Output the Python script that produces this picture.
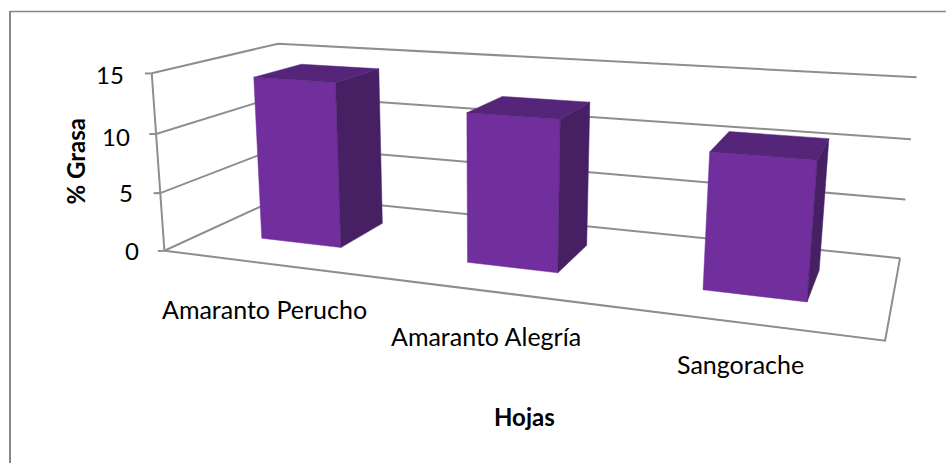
import numpy as np, plotly.graph_objects as go

# Data
categories = ['Amaranto Perucho', 'Amaranto Alegría', 'Sangorache']
grasa = [14.1, 12.36, 10.72]
z_ticks = [0, 5, 10, 15]
z_tick_labels = ['0', '5', '10', '15']
x_title = 'Hojas'
y_title = '% Grasa'

W, H = 946, 463
# Projective camera of the pseudo-3D chart: (category, depth, value) -> page position
CAMERA = np.array([182.332, 170.684, -1.22698, 164.406,
                   7.70186, -20.8137, -12.0129, 250.725,
                   -0.0654142, 0.176297, -0.00251772, 1.0]).reshape(3, 4)
BAR_START, BAR_WIDTH, DEPTH0, DEPTH1 = 0.296, 0.400, 0.308, 0.713
FRONT, SIDE, TOP = '#702f9d', '#472064', '#55257a'
GRID, FRAME = '#8e8e8e', '#868686'
FONT = 'Lato'


def project(x, y, z):
    h = CAMERA @ np.array([x, y, z, 1.0])
    return h[0] / h[2], h[1] / h[2]


fig = go.Figure()


def line(points):
    xs, ys = zip(*[project(*p) for p in points])
    fig.add_trace(go.Scatter(x=xs, y=ys, mode='lines', line=dict(color=GRID, width=2), hoverinfo='skip'))


def face(points, color):
    xs, ys = zip(*[project(*p) for p in points + points[:1]])
    fig.add_trace(go.Scatter(x=xs, y=ys, mode='lines', fill='toself', fillcolor=color,
                             line=dict(color=color, width=0.5), hoverinfo='skip'))


n = len(categories)
top = z_ticks[-1]
for z in z_ticks:
    line([(-0.025, -0.012, z), (0, 0, z), (0, 1, z), (n, 1, z)])
line([(0, 0, 0), (0, 0, top)])
line([(0, 0, 0), (n, 0, 0), (n, 1, 0)])

for i, v in enumerate(grasa):
    x0, x1 = i + BAR_START, i + BAR_START + BAR_WIDTH
    face([(x0, DEPTH0, 0), (x1, DEPTH0, 0), (x1, DEPTH0, v), (x0, DEPTH0, v)], FRONT)
    face([(x1, DEPTH0, 0), (x1, DEPTH1, 0), (x1, DEPTH1, v), (x1, DEPTH0, v)], SIDE)
    face([(x0, DEPTH0, v), (x1, DEPTH0, v), (x1, DEPTH1, v), (x0, DEPTH1, v)], TOP)


def label(text, x, y, size, bold=False, angle=0, anchor='center'):
    fig.add_annotation(x=x, y=y, xref='x', yref='y', text=f'<b>{text}</b>' if bold else text, showarrow=False,
                       textangle=angle, xanchor=anchor, yanchor='middle',
                       font=dict(family=FONT, size=size, color='#000000'))


for t, (x, y) in zip(z_tick_labels, [(141, 250), (135, 192), (132, 136), (126, 74)]):
    label(t, x, y, 24, anchor='right')
for t, (x, y) in zip(categories, [(264, 309), (486, 336), (740, 364)]):
    label(t, x, y, 25)
label(y_title, 74.5, 162, 24, True, -90)
label(x_title, 524.5, 416, 24, True)

fig.add_shape(type='line', x0=10, y0=11, x1=10, y1=H, xref='x', yref='y', line=dict(color=FRAME, width=2))
fig.add_shape(type='line', x0=10, y0=11.5, x1=W, y1=11.5, xref='x', yref='y', line=dict(color=FRAME, width=1.5))

fig.update_layout(width=W, height=H, margin=dict(l=0, r=0, t=0, b=0), showlegend=False,
                  plot_bgcolor='white', paper_bgcolor='white',
                  xaxis=dict(range=[0, W], visible=False, fixedrange=True),
                  yaxis=dict(range=[H, 0], visible=False, fixedrange=True))
fig.write_html('out.html', config=dict(displayModeBar=False),
               post_script="document.body.style.margin='0';document.body.style.overflow='hidden';")
